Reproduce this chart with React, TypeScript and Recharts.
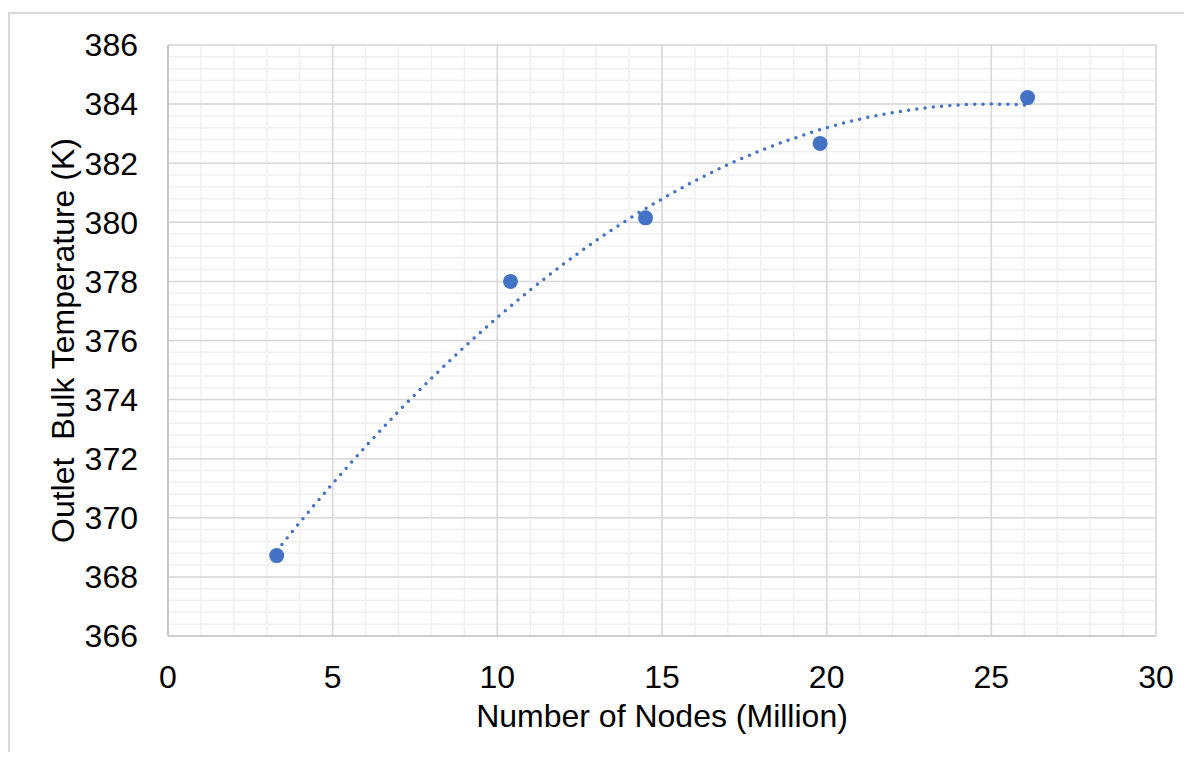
import React from "react";
import {
  ComposedChart,
  XAxis,
  YAxis,
  CartesianGrid,
  Scatter,
  Line,
} from "recharts";

// Measured points: number of nodes (million) vs outlet bulk temperature (K)
const nodesMillion = [3.3, 10.4, 14.5, 19.8, 26.1];
const outletTemp = [368.72, 378.0, 380.15, 382.67, 384.22];

// Polynomial trendline
const trendX = [3.3, 4, 5, 6, 7, 8, 9, 10, 11, 12, 13, 14, 15, 16, 17, 18, 19, 20, 21, 22, 23, 24, 25, 26, 26.1];
const trendY = [
  368.88, 369.84, 371.16, 372.41, 373.6, 374.72, 375.78, 376.78, 377.71, 378.58, 379.38, 380.12,
  380.79, 381.4, 381.95, 382.43, 382.84, 383.2, 383.49, 383.71, 383.87, 383.97, 384.0, 383.97, 383.96,
];

const xTicks = [0, 5, 10, 15, 20, 25, 30];
const yTicks = [366, 368, 370, 372, 374, 376, 378, 380, 382, 384, 386];
const minorXTicks = Array.from({ length: 31 }, (_, i) => i);
const minorYTicks = Array.from({ length: 51 }, (_, i) => Math.round((366 + i * 0.4) * 10) / 10);

const points = nodesMillion.map((x, i) => ({ x, y: outletTemp[i] }));
const trend = trendX.map((x, i) => ({ x, y: trendY[i] }));

const FONT = "'Liberation Sans', Arial, sans-serif";
const BLUE = "#4472C4";

const YLabel = (props: any) => {
  const vb = props.viewBox || {};
  const cx = vb.x + 66;
  const cy = vb.y + vb.height / 2;
  return (
    <text
      x={cx}
      y={cy}
      transform={`rotate(-90, ${cx}, ${cy})`}
      textAnchor="middle"
      fontSize={32}
      fontFamily={FONT}
      fill="#000"
      style={{ whiteSpace: "pre" }}
      xmlSpace="preserve"
    >
      {"Outlet  Bulk Temperature (K)"}
    </text>
  );
};

const XLabel = (props: any) => {
  const vb = props.viewBox || {};
  return (
    <text
      x={vb.x + vb.width / 2}
      y={vb.y + 91}
      textAnchor="middle"
      fontSize={32}
      fontFamily={FONT}
      fill="#000"
    >
      Number of Nodes (Million)
    </text>
  );
};

const Dot = (props: any) => <circle cx={props.cx} cy={props.cy} r={7.5} fill={BLUE} />;

export default function App() {
  return (
    <div style={{ position: "relative", width: 1176, height: 744 }}>
      <div
        style={{
          position: "absolute",
          left: 0,
          top: 4,
          width: 1176,
          height: 748,
          boxSizing: "border-box",
          borderLeft: "2px solid #d9d9d9",
          borderTop: "2px solid #d9d9d9",
        }}
      />
      <div style={{ position: "absolute", left: 0, top: 0 }}>
        <ComposedChart
          width={1176}
          height={744}
          margin={{ top: 37, right: 28, left: 0, bottom: 0 }}
        >
          <CartesianGrid
            stroke="#f0f0f0"
            strokeWidth={1.5}
            horizontalValues={minorYTicks}
            verticalValues={minorXTicks}
          />
          <CartesianGrid stroke="#d9d9d9" strokeWidth={1.5} />
          <XAxis
            type="number"
            dataKey="x"
            domain={[0, 30]}
            ticks={xTicks}
            interval={0}
            allowDataOverflow
            height={116}
            tickSize={0}
            tickMargin={29}
            axisLine={{ stroke: "#c8c8c8", strokeWidth: 1.5 }}
            tickLine={false}
            tick={{ fontSize: 32, fontFamily: FONT, fill: "#000" }}
            label={<XLabel />}
          />
          <YAxis
            type="number"
            dataKey="y"
            domain={[366, 386]}
            ticks={yTicks}
            interval={0}
            allowDataOverflow
            width={160}
            tickSize={0}
            tickMargin={30}
            axisLine={{ stroke: "#bfbfbf", strokeWidth: 1.5 }}
            tickLine={false}
            tick={{ fontSize: 32, fontFamily: FONT, fill: "#000" }}
            label={<YLabel />}
          />
          <Line
            data={trend}
            dataKey="y"
            type="monotone"
            stroke={BLUE}
            strokeWidth={3.5}
            strokeLinecap="round"
            strokeDasharray="0 8.3"
            dot={false}
            activeDot={false}
            isAnimationActive={false}
          />
          <Scatter data={points} dataKey="y" shape={<Dot />} isAnimationActive={false} />
        </ComposedChart>
      </div>
    </div>
  );
}
